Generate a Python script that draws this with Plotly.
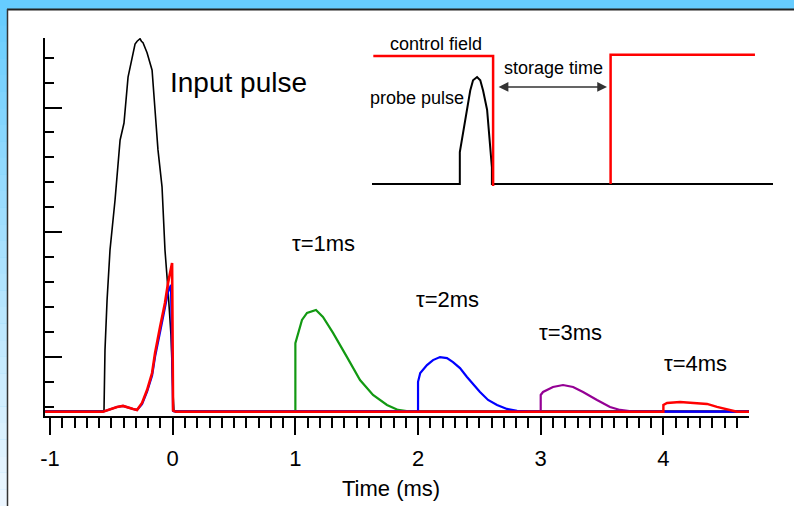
import plotly.graph_objects as go

FONT = "Arial, Liberation Sans, sans-serif"

# ---------------- main chart data (time in ms, signal in arbitrary units) ----------------
input_t = [-1.04, -0.56, -0.552, -0.535, -0.511, -0.47, -0.429, -0.397, -0.364, -0.332, -0.307,
           -0.29, -0.275, -0.266, -0.255, -0.242, -0.209, -0.168, -0.144, -0.12, -0.087, -0.063,
           -0.038, -0.014, 0.003, 0.01, 4.7]
input_s = [-0.17, -0.17, 2.27, 4.28, 6.29, 8.29, 10.69, 11.38, 13.22, 14.03, 14.55,
           14.66, 14.72, 14.76, 14.66, 14.6, 14.2, 13.5, 11.9, 10.3, 8.82, 6.29,
           4.67, 2.87, 0.5, -0.17, -0.17]

# leakage pulse at t=0 (red trace and blue trace)
leak_t = [-1.04, -0.568, -0.454, -0.405, -0.323, -0.291, -0.25, -0.209, -0.168, -0.144,
          -0.103, -0.063, -0.038, -0.014, -0.005, 0.003, 0.02]
leak_red_s = [-0.2, -0.2, -0.01, 0.03, -0.09, -0.13, 0.15, 0.67, 1.35, 2.15,
              3.2, 4.16, 4.96, 5.6, 5.76, -0.15, -0.2]
leak_blue_s = [-0.2, -0.2, -0.01, 0.03, -0.09, -0.13, 0.1, 0.6, 1.25, 2.0,
               3.0, 3.95, 4.6, 4.88, 2.47, -0.17, -0.2]

# retrieved pulses after storage time tau
tau1_t = [0.02, 1.0, 1.0, 1.014, 1.054, 1.095, 1.168, 1.225, 1.307, 1.421, 1.527, 1.633,
          1.747, 1.837, 1.935, 4.7]
tau1_s = [-0.2, -0.2, 2.55, 2.8, 3.48, 3.76, 3.88, 3.6, 2.96, 1.99, 1.07, 0.47,
          0.07, -0.13, -0.2, -0.2]

tau2_t = [0.02, 2.0, 2.0, 2.018, 2.073, 2.122, 2.179, 2.236, 2.285, 2.342, 2.399, 2.44,
          2.505, 2.571, 2.644, 2.725, 2.807, 2.913, 4.7]
tau2_s = [-0.2, -0.2, 1.0, 1.35, 1.67, 1.87, 1.99, 1.95, 1.79, 1.55, 1.19, 0.95,
          0.59, 0.27, 0.07, -0.09, -0.17, -0.2, -0.2]

tau3_t = [0.02, 3.0, 3.0, 3.019, 3.1, 3.182, 3.264, 3.345, 3.459, 3.565, 3.647, 3.753, 4.7]
tau3_s = [-0.2, -0.2, 0.47, 0.59, 0.79, 0.87, 0.79, 0.59, 0.27, -0.01, -0.13, -0.2, -0.2]

tau4_t = [0.02, 4.0, 4.0, 4.03, 4.136, 4.242, 4.356, 4.437, 4.543, 4.6, 4.7]
tau4_s = [-0.2, -0.2, 0.07, 0.15, 0.19, 0.15, 0.11, -0.01, -0.13, -0.2, -0.2]

x_tickvals = [-1, 0, 1, 2, 3, 4]
x_ticktext = ["-1", "0", "1", "2", "3", "4"]

tau_labels = ["τ=1ms", "τ=2ms", "τ=3ms", "τ=4ms"]
tau_label_x = [1.23, 2.24, 3.24, 4.26]
tau_label_y = [6.56, 4.32, 2.96, 1.75]

# ---------------- inset schematic data ----------------
probe_x = [0, 21.9, 21.9, 22.7, 23.7, 24.5, 25.2, 26.2, 27.0, 27.7, 28.7, 29.2, 29.9, 29.9, 100]
probe_y = [0, 0, 0.25, 0.40, 0.58, 0.73, 0.81, 0.836, 0.81, 0.73, 0.58, 0.40, 0.13, 0, 0]
ctrl_x = [0.33, 30.2, 30.2, None, 59.5, 59.5, 95.5]
ctrl_y = [1.0, 1.0, -0.016, None, 0.0, 1.01, 1.01]

fig = go.Figure()

main_series = [
    (input_t, input_s, "black", 1.6),
    (tau1_t, tau1_s, "#129912", 2.2),
    (tau3_t, tau3_s, "#940094", 2.2),
    (leak_t, leak_blue_s, "#0000ff", 2.2),
    (tau2_t, tau2_s, "#0000ff", 2.2),
    (leak_t, leak_red_s, "#ff0000", 2.6),
    (tau4_t, tau4_s, "#ff0000", 2.4),
]
for xs, ys, col, w in main_series:
    fig.add_trace(go.Scatter(x=xs, y=ys, mode="lines", line=dict(color=col, width=w),
                             showlegend=False, hoverinfo="skip", xaxis="x", yaxis="y"))

fig.add_trace(go.Scatter(x=probe_x, y=probe_y, mode="lines", line=dict(color="black", width=2),
                         showlegend=False, hoverinfo="skip", xaxis="x2", yaxis="y2"))
fig.add_trace(go.Scatter(x=ctrl_x, y=ctrl_y, mode="lines", line=dict(color="#ff0000", width=2.5),
                         showlegend=False, hoverinfo="skip", xaxis="x2", yaxis="y2",
                         connectgaps=False))

W, H = 794, 506


def px(x):
    return x / W


def py(y):
    return 1 - y / H


shapes = []
# left gradient strip
n = 30
top_c = (102, 204, 255)
bot_c = (238, 247, 255)
for i in range(n):
    f = (i + 0.5) / n
    c = tuple(int(round(top_c[k] + (bot_c[k] - top_c[k]) * f)) for k in range(3))
    y0 = 9 + (H - 9) * i / n
    y1 = 9 + (H - 9) * (i + 1) / n
    shapes.append(dict(type="rect", xref="paper", yref="paper", x0=0, x1=px(7.5),
                       y0=py(y1), y1=py(y0) + 0.0005, fillcolor="rgb(%d,%d,%d)" % c,
                       line=dict(width=0), layer="below"))
shapes.append(dict(type="rect", xref="paper", yref="paper", x0=px(7.5), x1=1, y0=0, y1=py(9),
                   fillcolor="white", line=dict(width=0), layer="below"))
shapes.append(dict(type="line", xref="paper", yref="paper", x0=px(7), x1=1, y0=py(9.5), y1=py(9.5),
                   line=dict(color="#222", width=2), layer="below"))
shapes.append(dict(type="line", xref="paper", yref="paper", x0=px(7.5), x1=px(7.5), y0=0, y1=py(9),
                   line=dict(color="#333", width=1.5), layer="below"))

annotations = []
annotations.append(dict(text="Input pulse", x=px(238.5), y=py(83), xref="paper", yref="paper",
                        showarrow=False, xanchor="center", yanchor="middle",
                        font=dict(family=FONT, size=28, color="black")))
for t, lx, ly in zip(tau_labels, tau_label_x, tau_label_y):
    annotations.append(dict(text=t, x=lx, y=ly, xref="x", yref="y", showarrow=False,
                            xanchor="center", yanchor="middle",
                            font=dict(family=FONT, size=22, color="black")))
annotations.append(dict(text="Time (ms)", x=px(390.5), y=py(488), xref="paper", yref="paper",
                        showarrow=False, xanchor="center", yanchor="middle",
                        font=dict(family=FONT, size=22, color="black")))
for t, cx, cy in [("control field", 436, 44), ("storage time", 553, 68), ("probe pulse", 417, 98)]:
    annotations.append(dict(text=t, x=px(cx), y=py(cy), xref="paper", yref="paper",
                            showarrow=False, xanchor="center", yanchor="middle",
                            font=dict(family=FONT, size=18, color="black")))
annotations.append(dict(text="", x=58.6, y=0.758, ax=31.2, ay=0.758, xref="x2", yref="y2",
                        axref="x2", ayref="y2", showarrow=True, arrowhead=2, startarrowhead=2,
                        arrowside="end+start", arrowwidth=1.5, arrowsize=1.3,
                        startarrowsize=1.3, arrowcolor="#333"))

fig.update_layout(
    width=W, height=H, autosize=False,
    margin=dict(l=0, r=0, t=0, b=0, pad=0),
    paper_bgcolor="#66CCFF",
    plot_bgcolor="rgba(0,0,0,0)",
    shapes=shapes,
    annotations=annotations,
    xaxis=dict(domain=[45 / W, 749 / W], range=[-1.041, 4.698], showgrid=False, zeroline=False,
               automargin=False,
               showline=True, linecolor="black", linewidth=2,
               tickmode="array", tickvals=x_tickvals, ticktext=x_ticktext,
               ticks="outside", ticklen=17, tickwidth=1.5, tickcolor="black",
               ticklabelstandoff=5,
               tickfont=dict(family=FONT, size=22, color="black"),
               minor=dict(tickmode="linear", tick0=0, dtick=0.1, ticks="outside", ticklen=10,
                          tickwidth=1.5, tickcolor="black"),
               anchor="y"),
    yaxis=dict(domain=[(H - 416) / H, (H - 38) / H], range=[-0.373, 14.79], showgrid=False,
               zeroline=False, showline=True, linecolor="black", linewidth=2,
               automargin=False,
               tickmode="linear", tick0=2, dtick=5, ticks="inside", ticklen=17, tickwidth=1.5,
               tickcolor="black", showticklabels=False,
               minor=dict(tickmode="linear", tick0=0, dtick=1, ticks="inside", ticklen=9,
                          tickwidth=1.5, tickcolor="black"),
               anchor="x"),
    xaxis2=dict(domain=[372 / W, 773 / W], range=[0, 100], showgrid=False, zeroline=False,
                automargin=False,
                showline=False, showticklabels=False, ticks="", anchor="y2"),
    yaxis2=dict(domain=[(H - 186) / H, (H - 48) / H], range=[-0.0156, 1.0625], showgrid=False,
                automargin=False,
                zeroline=False, showline=False, showticklabels=False, ticks="", anchor="x2"),
)

fig.write_html("out.html")
